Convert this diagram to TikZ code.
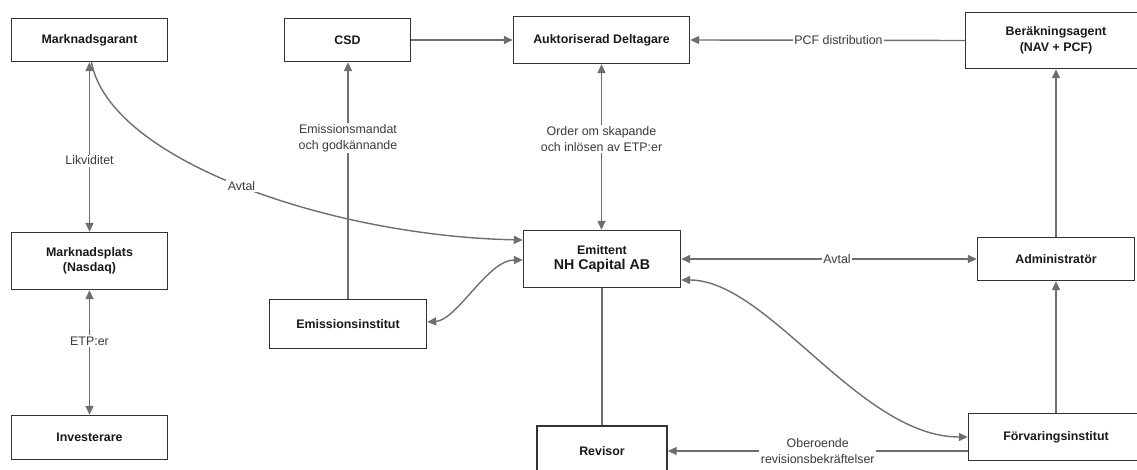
\documentclass[tikz,border=0pt]{standalone}
\usepackage{fontspec}
\setmainfont{Liberation Sans}
\usepackage{xcolor}
\usetikzlibrary{arrows.meta}
\usetikzlibrary{positioning}
\definecolor{linegray}{HTML}{6E6E6E}
\definecolor{boxline}{HTML}{333333}
\definecolor{txtgray}{HTML}{3A3A3A}
\tikzset{box/.style={draw=boxline,line width=1.4pt,fill=white,align=center,inner sep=2pt,
                     text=black!90,font=\fontsize{12.4}{15.5}\selectfont\bfseries},
         conn/.style={draw=linegray,line width=1.4pt,-{Triangle[length=9pt,width=8pt]}},
         both/.style={conn,{Triangle[length=9pt,width=8pt]}-{Triangle[length=9pt,width=8pt]}},
         plain/.style={draw=linegray,line width=1.4pt},
         lbl/.style={fill=white,inner sep=1.5pt,align=center,text=txtgray,
                     font=\fontsize{12.4}{16}\selectfont},
         }

\begin{document}
\begin{tikzpicture}[x=1pt,y=-1pt]
		\useasboundingbox (0,0) rectangle (1137,470);
		\clip (0,0) rectangle (1137,470);
		% actors
		\node[box,minimum width=156pt,minimum height=43pt] (mg) at (89.5,40) {Marknadsgarant};
		\node[box,minimum width=126pt,minimum height=43pt] (csd) at (347.5,40) {CSD};
		\node[box,minimum width=176pt,minimum height=47pt] (ad) at (601.5,40) {Auktoriserad Deltagare};
		\node[box,minimum width=181pt,minimum height=56pt] (ber) at (1056,40.5) {Beräkningsagent\\(NAV + PCF)};
		\node[box,minimum width=156pt,minimum height=57pt] (mp) at (89.5,261) {Marknadsplats\\(Nasdaq)};
		\node[box,minimum width=157pt,minimum height=57pt] (emi) at (602,259)
		     {Emittent\\{\fontsize{14.2}{17}\selectfont NH Capital AB}};
		\node[box,minimum width=157pt,minimum height=43pt] (adm) at (1056,259) {Administratör};
		\node[box,minimum width=157pt,minimum height=49pt] (ei) at (348,324) {Emissionsinstitut};
		\node[box,minimum width=156pt,minimum height=44pt] (inv) at (89.5,437.5) {Investerare};
		\node[box,minimum width=130pt,minimum height=50pt] (rev) at (602,451) {Revisor};
		\node[box,minimum width=175pt,minimum height=47pt] (fi) at (1056,437) {Förvaringsinstitut};
		% flows
		\draw[conn] (csd) -- (ad);
		\draw[conn] (ber.west) -- node[lbl,pos=0.46] {PCF distribution} (ad.east);
		\draw[both] (mg) -- node[lbl,pos=0.58] {Likviditet} (mp);
		\draw[both] (mp) -- node[lbl,pos=0.41] {ETP:er} (inv);
		\draw[conn] (ei.north) -- node[lbl,pos=0.68] {Emissionsmandat\\och godkännande} (ei.north |- csd.south);
		\draw[both] (ad.south) -- node[lbl,pos=0.45] {Order om skapande\\och inlösen av ETP:er} (ad.south |- emi.north);
		\draw[both] (emi) -- node[lbl,pos=0.527] {Avtal} (adm);
		\draw[conn] (adm) -- (ber);
		\draw[conn] (fi) -- (adm);
		\draw[plain] (emi) -- (rev);
		\draw[conn] (rev.east -| fi.west) -- node[lbl,pos=0.5] {Oberoende\\revisionsbekräftelser} (rev.east);
		% curved ones
		\draw[conn] ([xshift=2pt]mg.south) .. controls +(18,98) and +(-193,-4) .. ([yshift=19pt]emi.west)
		     node[lbl,pos=0.5] {Avtal};
		\draw[both] ([yshift=2pt]ei.east) .. controls +(30,-2) and +(-35,0) .. ([yshift=-1pt]emi.west);
		\draw[both] ([yshift=-21pt]emi.east) .. controls +(87,0) and +(-108,0) .. (fi.west);
\end{tikzpicture}
\end{document}
